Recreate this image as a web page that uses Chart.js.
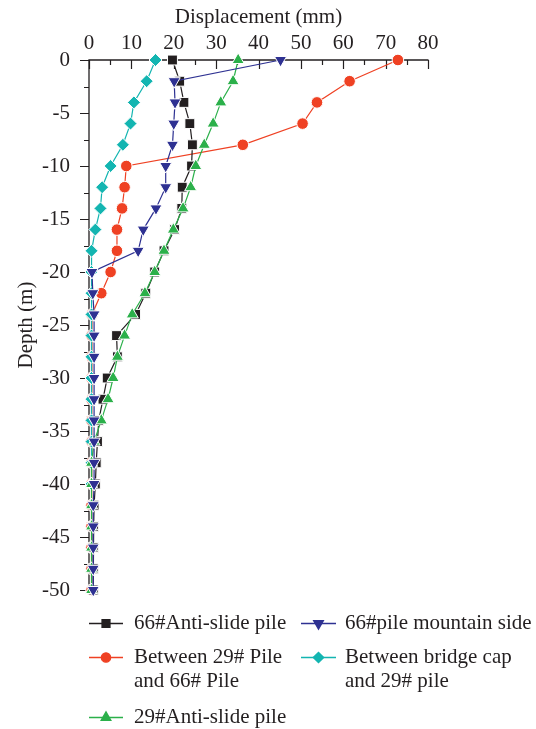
<!DOCTYPE html>
<html><head><meta charset="utf-8">
<script src="https://cdn.jsdelivr.net/npm/chart.js@4/dist/chart.umd.min.js"></script>
<style>html,body{margin:0;padding:0;background:#fff;}</style>
</head><body>
<canvas id="c" width="536" height="729"></canvas>
<script>
const depths = [0,-2,-4,-6,-8,-10,-12,-14,-16,-18,-20,-22,-24,-26,-28,-30,-32,-34,-36,-38,-40,-42,-44,-46,-48,-50];
const pile66 = [19.7,21.4,22.4,23.8,24.4,24.2,22.0,21.9,20.2,17.7,15.5,13.4,11.0,6.5,6.7,4.3,3.3,2.3,2.0,1.7,1.5,1.2,1.1,1.0,1.0,1.0];
const between29and66 = [72.9,61.5,53.8,50.4,36.3,8.8,8.4,7.8,6.6,6.6,5.1,2.9,0.7,0.6,0.6,0.6,0.6,0.6,0.6,0.6,0.6,0.6,0.6,0.6,0.6,0.6];
const pile29 = [35.2,34.0,31.1,29.3,27.2,25.2,24.0,22.2,19.9,17.7,15.5,13.2,10.2,8.4,6.7,5.7,4.5,2.9,1.2,0.6,0.6,0.6,0.6,0.6,0.6,0.6];
const mountainSide66 = [45.2,20.1,20.3,20.0,19.7,18.1,18.1,15.8,12.8,11.6,0.7,0.9,1.2,1.2,1.2,1.2,1.2,1.2,1.2,1.2,1.2,1.0,1.0,1.0,1.0,1.0];
const bridgeCap29 = [15.7,13.6,10.6,9.8,8.0,5.1,3.1,2.7,1.5,0.6,0.6,0.6,0.6,0.6,0.6,0.6,0.6,0.6,0.6,0.6,0.6];
const xTicks = [0,10,20,30,40,50,60,70,80];
const yTicks = [0,-5,-10,-15,-20,-25,-30,-35,-40,-45,-50];

const FONT = 'Liberation Serif';
const FS = 21;
const TXT = '#231f20';
const toPts = arr => arr.map((v,i)=>({x:v,y:depths[i]}));

const series = [
  {label:['66#Anti-slide pile'], data:pile66, color:'#231f20', style:'rect', r:7, rot:0, order:3},
  {label:['Between 29# Pile','and 66# Pile'], data:between29and66, color:'#ef4123', style:'circle', r:5.8, rot:0, order:4},
  {label:['29#Anti-slide pile'], data:pile29, color:'#2bb04a', style:'triangle', r:7, rot:0, order:1},
  {label:['66#pile mountain side'], data:mountainSide66, color:'#2e3192', style:'triangle', r:7, rot:180, order:0},
  {label:['Between bridge cap','and 29# pile'], data:bridgeCap29, color:'#13b5b1', style:'rectRot', r:6.5, rot:0, order:2}
];

const axesPlugin = {
  id:'axesPlugin',
  beforeDatasetsDraw(chart){
    const {ctx, chartArea:a, scales:{x,y}} = chart;
    ctx.save();
    ctx.strokeStyle = TXT; ctx.lineWidth = 1.3;
    ctx.beginPath();
    ctx.moveTo(a.left, a.bottom+0.5); ctx.lineTo(a.left, a.top);
    ctx.lineTo(a.right+0.5, a.top);
    ctx.stroke();
    ctx.lineWidth = 1.2;
    ctx.beginPath();
    for(let v=0; v<=80; v+=5){
      const px = Math.round(x.getPixelForValue(v))+0.5;
      const len = (v%10===0)?9:5;
      ctx.moveTo(px, a.top); ctx.lineTo(px, a.top+len);
    }
    for(let v=0; v>=-50; v-=2.5){
      const py = Math.round(y.getPixelForValue(v))+0.5;
      const len = (v%5===0)?9:5;
      ctx.moveTo(a.left, py); ctx.lineTo(a.left-len, py);
    }
    ctx.stroke();
    ctx.restore();
  }
};

const legendPlugin = {
  id:'legendPlugin',
  afterDraw(chart){
    const ctx = chart.ctx;
    const cols = [{x0:89,x1:123,tx:134},{x0:301,x1:336,tx:345}];
    const pos = [[0,623],[0,657],[0,717],[1,623],[1,657]];
    ctx.save();
    ctx.font = FS+'px "'+FONT+'"';
    ctx.textBaseline = 'middle'; ctx.textAlign='left';
    series.forEach((s,i)=>{
      const c = cols[pos[i][0]]; const yy = pos[i][1];
      ctx.strokeStyle = s.color; ctx.lineWidth = 1.3;
      ctx.beginPath(); ctx.moveTo(c.x0, yy+0.5); ctx.lineTo(c.x1, yy+0.5); ctx.stroke();
      ctx.fillStyle = s.color; ctx.strokeStyle = s.color;
      Chart.helpers.drawPoint(ctx, {pointStyle:s.style, radius:s.r*0.8, rotation:s.rot, borderWidth:1}, (c.x0+c.x1)/2, yy+0.5);
      ctx.fillStyle = TXT;
      s.label.forEach((t,k)=>ctx.fillText(t, c.tx, yy + k*24));
    });
    ctx.restore();
  }
};

new Chart(document.getElementById('c'), {
  type:'scatter',
  data:{
    datasets: series.map(s=>({
      label:s.label.join(' '),
      data:toPts(s.data),
      showLine:true,
      borderColor:s.color,
      borderWidth:1.2,
      backgroundColor:s.color,
      pointBackgroundColor:s.color,
      pointBorderColor:'#ffffff',
      pointBorderWidth:1,
      pointStyle:s.style,
      pointRadius:s.r,
      pointRotation:s.rot,
      order:s.order,
      clip:false,
      tension:0
    }))
  },
  options:{
    responsive:false,
    animation:false,
    events:[],
    layout:{padding:{left:0,top:0,right:108,bottom:139}},
    plugins:{legend:{display:false},tooltip:{enabled:false}},
    scales:{
      x:{
        type:'linear', position:'top', min:0, max:80,
        afterBuildTicks(s){ s.ticks = xTicks.map(v=>({value:v})); },
        afterFit(s){ s.height = 60; },
        ticks:{font:{family:FONT,size:FS}, color:TXT, padding:4, maxRotation:0},
        grid:{display:false, drawTicks:false, tickLength:0},
        border:{display:false},
        title:{display:true, text:'Displacement (mm)', color:TXT, font:{family:FONT,size:FS}, padding:{top:5,bottom:0}}
      },
      y:{
        type:'linear', min:-50, max:0,
        afterBuildTicks(s){ s.ticks = yTicks.map(v=>({value:v})); },
        afterFit(s){ s.width = 89; },
        ticks:{font:{family:FONT,size:FS}, color:TXT, padding:19},
        grid:{display:false, drawTicks:false, tickLength:0},
        border:{display:false},
        title:{display:true, text:'Depth (m)', color:TXT, font:{family:FONT,size:FS}, padding:{top:14,bottom:0}}
      }
    }
  },
  plugins:[axesPlugin, legendPlugin]
});
</script>
</body></html>
